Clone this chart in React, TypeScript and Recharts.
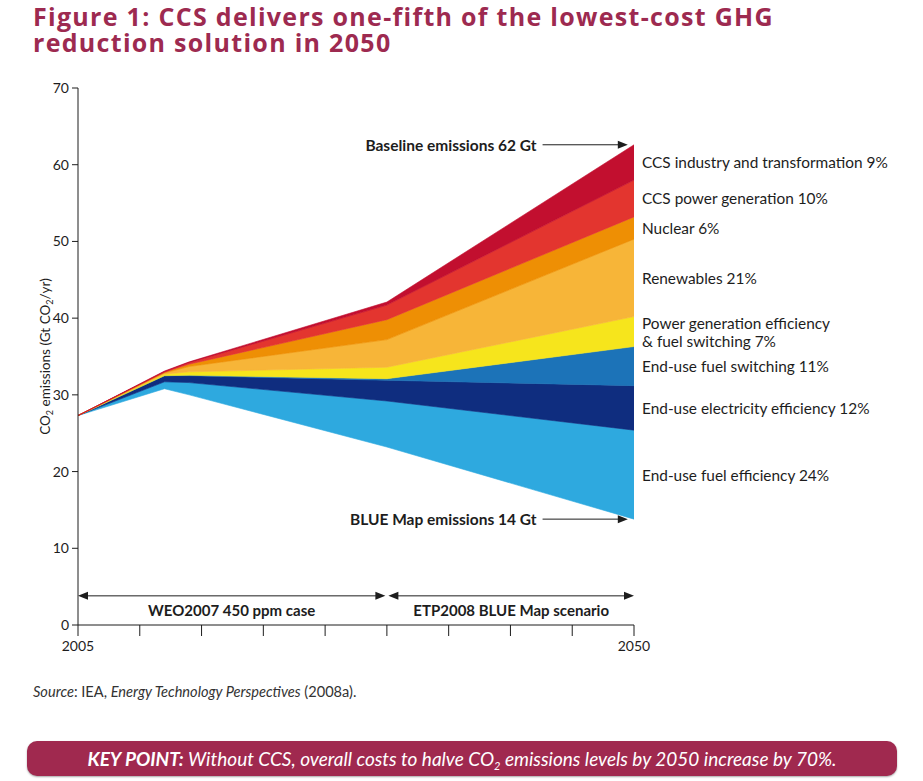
import React from 'react';
import { AreaChart, Area, XAxis, YAxis, ReferenceLine, ReferenceDot } from 'recharts';

// years where the scenario curves bend
const years = [2005, 2012, 2014, 2030, 2050];

// band boundaries in Gt CO2/yr (bottom to top)
const blueMap = [27.3, 30.8, 30.0, 23.2, 13.8];
const fuelEfficiencyTop = [27.3, 31.7, 31.6, 29.2, 25.4];
const electricityEfficiencyTop = [27.3, 32.5, 32.5, 31.9, 31.2];
const fuelSwitchingTop = [27.3, 32.5, 32.55, 32.1, 36.3];
const powerGenTop = [27.3, 32.7, 33.0, 33.6, 40.2];
const renewablesTop = [27.3, 32.85, 33.7, 37.2, 50.3];
const nuclearTop = [27.3, 32.95, 34.0, 39.8, 53.2];
const ccsPowerTop = [27.3, 33.0, 34.2, 41.7, 58.0];
const baseline = [27.3, 33.1, 34.3, 42.1, 62.6];

const yTicks = [0, 10, 20, 30, 40, 50, 60, 70];
const xTicks = [2005, 2010, 2015, 2020, 2025, 2030, 2035, 2040, 2045, 2050];
const xTickLabels = ['2005', '', '', '', '', '', '', '', '', '2050'];

const bands = [
  { key: 'fuelEff', label: ['End-use fuel efficiency 24%'], color: '#2ea9df', lower: blueMap, upper: fuelEfficiencyTop },
  { key: 'elecEff', label: ['End-use electricity efficiency 12%'], color: '#0f2d7f', lower: fuelEfficiencyTop, upper: electricityEfficiencyTop },
  { key: 'fuelSwitch', label: ['End-use fuel switching 11%'], color: '#1c73b8', lower: electricityEfficiencyTop, upper: fuelSwitchingTop },
  { key: 'powerGen', label: ['Power generation efficiency', '& fuel switching 7%'], color: '#f6e51c', lower: fuelSwitchingTop, upper: powerGenTop },
  { key: 'renew', label: ['Renewables 21%'], color: '#f7b538', lower: powerGenTop, upper: renewablesTop },
  { key: 'nuclear', label: ['Nuclear 6%'], color: '#ee8f04', lower: renewablesTop, upper: nuclearTop },
  { key: 'ccsPower', label: ['CCS power generation 10%'], color: '#e3352f', lower: nuclearTop, upper: ccsPowerTop },
  { key: 'ccsIndustry', label: ['CCS industry and transformation 9%'], color: '#c20f2f', lower: ccsPowerTop, upper: baseline },
];

const data = years.map((year, i) => {
  const row: any = { year };
  bands.forEach((b) => { row[b.key] = [b.lower[i], b.upper[i]]; });
  return row;
});

const last = years.length - 1;
const noteFrom = 2042.6;
const noteTo = 2049.5;
const periodLevel = 3.8;
const FONT = 'Lato, "Open Sans", sans-serif';
const ink = '#1d1d1d';
const titleLines = ['Figure 1: CCS delivers one-fifth of the lowest-cost GHG', 'reduction solution in 2050'];

const arrowHead = (x: number, y: number, dir: number) => (
  <polygon points={`${x},${y} ${x - dir * 10},${y - 4} ${x - dir * 10},${y + 4}`} fill={ink} />
);

const NoteArrow = (text: string) => (p: any) => (
  <g>
    <line x1={p.x1} y1={p.y1} x2={p.x2 - 6} y2={p.y2} stroke={ink} strokeWidth={1} />
    {arrowHead(p.x2, p.y2, 1)}
    <text x={p.x1 - 6} y={p.y1} textAnchor="end" dominantBaseline="central"
      fontFamily={FONT} fontSize={15.5} fontWeight={700} fill={ink}>{text}</text>
  </g>
);

const PeriodArrow = (text: string, insetLeft: number, insetRight: number) => (p: any) => {
  const a = Math.min(p.x1, p.x2) + insetLeft;
  const b = Math.max(p.x1, p.x2) - insetRight;
  return (
    <g>
      <line x1={a + 6} y1={p.y1} x2={b - 6} y2={p.y1} stroke={ink} strokeWidth={1} />
      {arrowHead(a, p.y1, -1)}
      {arrowHead(b, p.y1, 1)}
      <text x={(a + b) / 2} y={p.y1 + 14} textAnchor="middle" dominantBaseline="central"
        fontFamily={FONT} fontSize={15} fontWeight={700} fill={ink}>{text}</text>
    </g>
  );
};

const bandLabel = (lines: string[]) => (props: any) => {
  const vb = props.viewBox;
  const cy = vb.y + vb.height / 2;
  const x = vb.x + vb.width / 2 + 8;
  const top = cy - ((lines.length - 1) * 18) / 2;
  return (
    <text x={x} y={top} dominantBaseline="central" fontFamily={FONT} fontSize={15.4} fill={ink}>
      {lines.map((l, i) => (
        <tspan key={i} x={x} dy={i === 0 ? 0 : 18}>{l}</tspan>
      ))}
    </text>
  );
};

const yLabel = (props: any) => {
  const vb = props.viewBox;
  const x = vb.x + 27;
  const y = vb.y + vb.height / 2;
  return (
    <text transform={`rotate(-90 ${x} ${y})`} x={x} y={y} textAnchor="middle" dominantBaseline="central"
      fontFamily={FONT} fontSize={13.5} fill={ink}>
      CO<tspan fontSize={9} dy={4}>2</tspan><tspan dy={-4}> emissions (Gt CO</tspan>
      <tspan fontSize={9} dy={4}>2</tspan><tspan dy={-4}>/yr)</tspan>
    </text>
  );
};

export default function App() {
  return (
    <div style={{ position: 'absolute', left: 0, top: 0, width: 923, height: 781, background: '#fff', fontFamily: FONT }}>
      {titleLines.map((t, i) => (
        <div key={i} style={{
          position: 'absolute', left: 33, top: 4 + i * 26, height: 25, color: '#9d2a50', fontWeight: 700, fontSize: 25,
          lineHeight: '25px', letterSpacing: 1.3, fontFamily: '"Open Sans", Lato, sans-serif', whiteSpace: 'nowrap',
        }}>{t}</div>
      ))}

      <div style={{ position: 'absolute', left: 0, top: 0 }}>
        <AreaChart width={923} height={781} data={data} margin={{ top: 88, right: 289, bottom: 126, left: 18 }}>
          <XAxis dataKey="year" type="number" domain={[2005, 2050]} ticks={xTicks}
            tickFormatter={(v: number) => xTickLabels[xTicks.indexOf(v)]}
            tickSize={11} tickMargin={5} stroke={ink}
            tick={{ fontSize: 14, fill: ink, fontFamily: FONT }} />
          <YAxis type="number" domain={[0, 70]} ticks={yTicks} width={60} tickSize={6} tickMargin={3}
            stroke={ink} tick={{ fontSize: 14, fill: ink, fontFamily: FONT }}
            label={{ content: yLabel }} />
          {bands.map((b) => (
            <Area key={b.key} type="linear" dataKey={b.key} fill={b.color} fillOpacity={1}
              stroke={b.color} strokeWidth={0.6} dot={false} activeDot={false} isAnimationActive={false} />
          ))}
          {bands.map((b) => (
            <ReferenceDot key={'l' + b.key} x={years[last]} y={(b.lower[last] + b.upper[last]) / 2}
              r={0} fill="none" stroke="none" label={{ content: bandLabel(b.label) }} />
          ))}
          <ReferenceLine segment={[{ x: noteFrom, y: baseline[last] }, { x: noteTo, y: baseline[last] }]}
            shape={NoteArrow('Baseline emissions 62 Gt')} />
          <ReferenceLine segment={[{ x: noteFrom, y: blueMap[last] }, { x: noteTo, y: blueMap[last] }]}
            shape={NoteArrow('BLUE Map emissions 14 Gt')} />
          <ReferenceLine segment={[{ x: 2005, y: periodLevel }, { x: 2030, y: periodLevel }]}
            shape={PeriodArrow('WEO2007 450 ppm case', 0, 1.5)} />
          <ReferenceLine segment={[{ x: 2030, y: periodLevel }, { x: 2050, y: periodLevel }]}
            shape={PeriodArrow('ETP2008 BLUE Map scenario', 1.5, 0)} />
        </AreaChart>
      </div>

      <div style={{ position: 'absolute', left: 33, top: 683, fontSize: 14.6, color: '#333' }}>
        <i>Source</i>: IEA, <i>Energy Technology Perspectives</i> (2008a).
      </div>

      <div style={{
        position: 'absolute', left: 27, top: 741, width: 870, height: 35, borderRadius: 10,
        background: '#a0294f', color: '#fff', fontStyle: 'italic', fontSize: 19, lineHeight: '35px', textAlign: 'center',
        boxShadow: '0 1px 2px rgba(0,0,0,0.35)',
      }}>
        <b>KEY POINT:</b> Without CCS, overall costs to halve CO<sub style={{ fontSize: 11, verticalAlign: -4 }}>2</sub> emissions levels by 2050 increase by 70%.
      </div>
    </div>
  );
}
